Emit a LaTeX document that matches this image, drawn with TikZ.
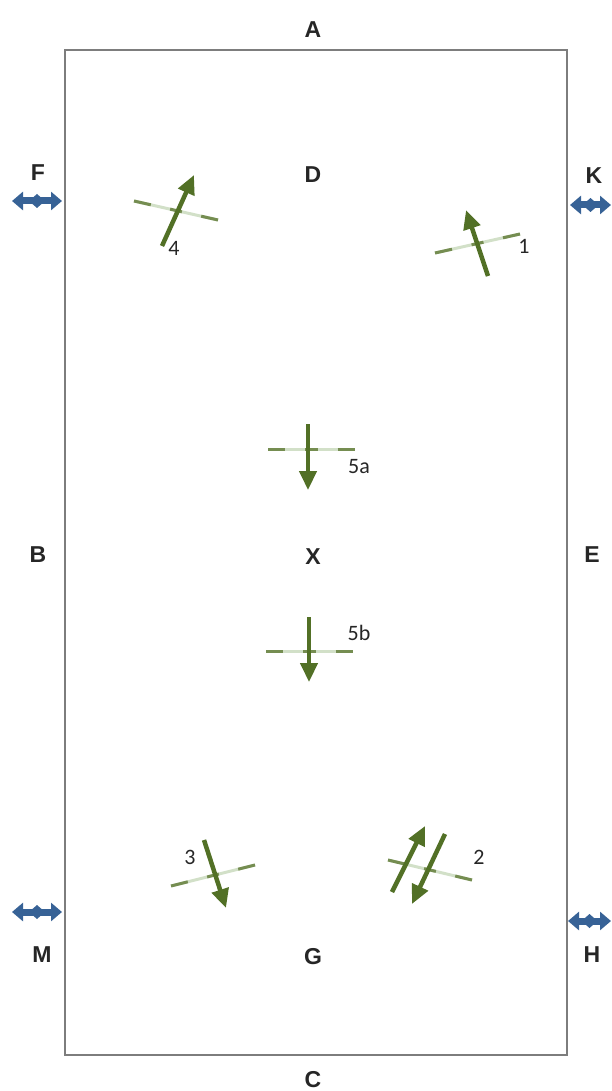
\documentclass[tikz,border=0pt]{standalone}
\usepackage{fontspec}
\setmainfont{Liberation Sans}
\newfontfamily\numfont{Carlito}
\usetikzlibrary{arrows.meta,calc}
\definecolor{arenagray}{RGB}{125,125,125}
\definecolor{movegreen}{RGB}{82,112,38}
\definecolor{fadegreen}{RGB}{210,224,200}
\definecolor{legblue}{RGB}{55,98,150}
\newcommand{\drawletter}{\node[font=\bfseries\fontsize{23}{23}\selectfont, text=black!85, inner sep=0]}
\newcommand{\drawnum}{\node[font=\numfont\fontsize{22}{22}\selectfont, text=black!85, inner sep=0]}
\newcommand{\drawpt}{\coordinate}
\tikzset{
  move/.style={movegreen, line width=4.5pt, -{Triangle[length=19pt,width=17pt]}},
  leg/.style={legblue, line width=7pt, {Triangle[length=11pt,width=18pt]}-{Triangle[length=11pt,width=18pt]}},
}
% draw a faded green bar between two named points
\newcommand{\drawbar}[2]{%
  \draw[fadegreen, line width=3pt] (#1) -- (#2);
  \draw[movegreen!80, line width=3pt] (#1) -- ($(#1)!0.2!(#2)$);
  \draw[movegreen!80, line width=3pt] ($(#1)!0.43!(#2)$) -- ($(#1)!0.57!(#2)$);
  \draw[movegreen!80, line width=3pt] ($(#1)!0.8!(#2)$) -- (#2);
}

\begin{document}
\begin{tikzpicture}[x=1pt, y=-1pt]
\useasboundingbox (0,0) rectangle (611,1091);
%arena
\draw[arenagray, line width=2.2pt] (65,50) rectangle (567,1055);

%letters
\drawletter (A) at (313,30) {A};
\drawletter (D) at (313,175) {D};
\drawletter (X) at (313,557) {X};
\drawletter (G) at (313,957) {G};
\drawletter (C) at (313,1080) {C};
\drawletter (F) at (38,173) {F};
\drawletter (K) at (594,176) {K};
\drawletter (B) at (38,555) {B};
\drawletter (E) at (592,555) {E};
\drawletter (M) at (42,955) {M};
\drawletter (H) at (592,955) {H};

%leg yield markers
\drawpt (fa) at (12,201); \drawpt (fb) at (62,201);
\drawpt (ka) at (570,205); \drawpt (kb) at (611,205);
\drawpt (ma) at (12,912); \drawpt (mb) at (62,912);
\drawpt (ha) at (568,921); \drawpt (hb) at (611,921);
\draw[leg] (fa) -- (fb);
\draw[leg] (ka) -- (kb);
\draw[leg] (ma) -- (mb);
\draw[leg] (ha) -- (hb);
\foreach \p in {f,k,m,h}
  \fill[legblue] ($(\p a)!0.5!(\p b)$) ++(-8,0) -- ++(8,-7) -- ++(8,7) -- ++(-8,7) -- cycle;

%figure 4
\drawpt (b4a) at (134,201); \drawpt (b4b) at (218,220);
\drawbar{b4a}{b4b}
\drawpt (m4a) at (162,246); \drawpt (m4b) at (194,175);
\draw[move] (m4a) -- (m4b);
\drawnum (n4) at (174,248) {4};

%figure 1
\drawpt (b1a) at (435,253); \drawpt (b1b) at (520,234);
\drawbar{b1a}{b1b}
\drawpt (m1a) at (488,276); \drawpt (m1b) at (466,210);
\draw[move] (m1a) -- (m1b);
\drawnum (n1) at (524,246) {1};

%figure 5a
\drawpt (b5a) at (268,449); \drawpt (b5b) at (355,449);
\drawbar{b5a}{b5b}
\drawpt (m5a) at (308,424); \drawpt (m5b) at (308,490);
\draw[move] (m5a) -- (m5b);
\drawnum (n5a) at (359,467) {5a};

%figure 5b
\drawpt (b6a) at (266,651); \drawpt (b6b) at (353,651);
\drawbar{b6a}{b6b}
\drawpt (m6a) at (309,617); \drawpt (m6b) at (309,682);
\draw[move] (m6a) -- (m6b);
\drawnum (n5b) at (359,633) {5b};

%figure 3
\drawpt (b3a) at (171,886); \drawpt (b3b) at (255,865);
\drawbar{b3a}{b3b}
\drawpt (m3a) at (204,840); \drawpt (m3b) at (226,908);
\draw[move] (m3a) -- (m3b);
\drawnum (n3) at (190,857) {3};

%figure 2
\drawpt (b2a) at (388,860); \drawpt (b2b) at (472,880);
\drawbar{b2a}{b2b}
\drawpt (m2a) at (392,892); \drawpt (m2b) at (425,826);
\draw[move] (m2a) -- (m2b);
\drawpt (m7a) at (445,834); \drawpt (m7b) at (412,904);
\draw[move] (m7a) -- (m7b);
\drawnum (n2) at (479,857) {2};
\end{tikzpicture}
\end{document}
